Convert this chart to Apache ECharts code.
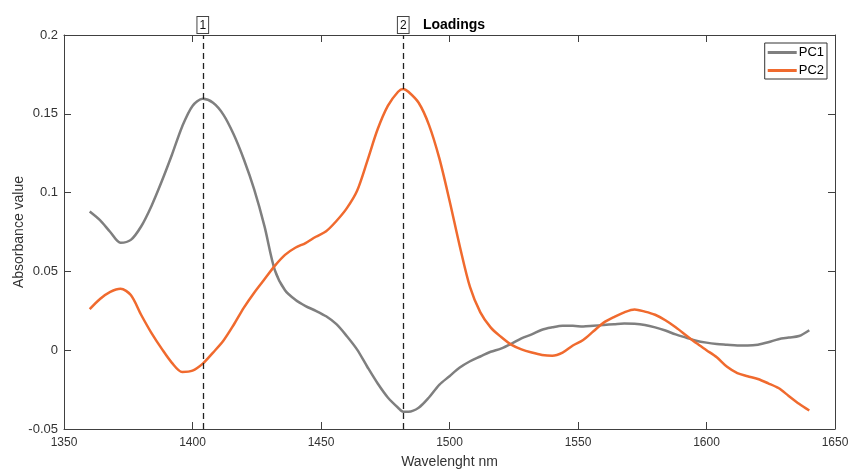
<!DOCTYPE html>
<html>
<head>
<meta charset="utf-8">
<title>Loadings</title>
<script src="https://cdn.jsdelivr.net/npm/echarts@6/dist/echarts.min.js"></script>
<style>
  html, body { margin: 0; padding: 0; background: #fff; }
  #chart { width: 848px; height: 470px; }
</style>
</head>
<body>
<div id="chart"></div>
<script>
// Wavelength grid (nm), 4 nm steps plus the two marked peak positions
const wavelength = [
  1360, 1364, 1368, 1372, 1376, 1380, 1384, 1388, 1392, 1396,
  1400, 1404, 1408, 1412, 1416, 1420, 1424, 1428, 1432, 1436,
  1440, 1444, 1448, 1452, 1456, 1460, 1464, 1468, 1472, 1476,
  1480, 1482, 1484, 1488, 1492, 1496, 1500, 1504, 1508, 1512, 1516,
  1520, 1524, 1528, 1532, 1536, 1540, 1544, 1548, 1552, 1556,
  1560, 1564, 1568, 1572, 1576, 1580, 1584, 1588, 1592, 1596,
  1600, 1604, 1608, 1612, 1616, 1620, 1624, 1628, 1632, 1636,
  1640
];

// First principal component loadings
const pc1 = [
  0.088, 0.0825, 0.0750, 0.0682, 0.0700, 0.0785, 0.0914, 0.107, 0.124, 0.142,
  0.155, 0.1595, 0.157, 0.1495, 0.137, 0.121, 0.102, 0.0787, 0.051, 0.038,
  0.032, 0.028, 0.025, 0.0215, 0.0165, 0.009, 0.0005, -0.0105, -0.021, -0.030,
  -0.0365, -0.0390, -0.0390, -0.0365, -0.030, -0.022, -0.0165, -0.011, -0.007, -0.004, -0.001,
  0.001, 0.004, 0.0075, 0.010, 0.013, 0.0145, 0.0155, 0.0155, 0.015, 0.0155,
  0.016, 0.0165, 0.017, 0.0168, 0.016, 0.0145, 0.0125, 0.010, 0.008, 0.006,
  0.0048, 0.004, 0.0035, 0.003, 0.003, 0.0035, 0.005, 0.007, 0.008, 0.009,
  0.0127
];

// Second principal component loadings
const pc2 = [
  0.026, 0.0325, 0.037, 0.039, 0.035, 0.0225, 0.011, 0.001, -0.008, -0.0138,
  -0.013, -0.0085, -0.0015, 0.006, 0.016, 0.027, 0.0365, 0.045, 0.0535, 0.0605,
  0.065, 0.068, 0.072, 0.0755, 0.082, 0.090, 0.101, 0.120, 0.140, 0.155,
  0.1640, 0.1658, 0.1640, 0.157, 0.143, 0.122, 0.095, 0.066, 0.040, 0.024, 0.0145,
  0.0085, 0.0035, 0.0005, -0.0015, -0.003, -0.0035, -0.0015, 0.003, 0.0065, 0.012,
  0.0175, 0.021, 0.024, 0.0258, 0.0245, 0.0225, 0.019, 0.0145, 0.0095, 0.0045,
  0.0, -0.0045, -0.0105, -0.0145, -0.0165, -0.0183, -0.021, -0.024, -0.029, -0.034,
  -0.0383
];

// Marked peak wavelengths and their tags
const peakWavelengths = [1404, 1482];
const peakTags = ['1', '2'];

const FONT = '"Liberation Sans", Arial, sans-serif';
const AXIS_COLOR = '#404040';
const TEXT_COLOR = '#333333';

const chart = echarts.init(document.getElementById('chart'), null, { renderer: 'canvas' });

const boxAxisX = {
  type: 'value', min: 1350, max: 1650, interval: 50,
  axisLine: { show: true, onZero: false, lineStyle: { color: AXIS_COLOR, width: 1 } },
  axisTick: { show: true, inside: true, length: 7, lineStyle: { color: AXIS_COLOR } },
  splitLine: { show: false }
};
const boxAxisY = {
  type: 'value', min: -0.05, max: 0.2, interval: 0.05,
  axisLine: { show: true, onZero: false, lineStyle: { color: AXIS_COLOR, width: 1 } },
  axisTick: { show: true, inside: true, length: 7, lineStyle: { color: AXIS_COLOR } },
  splitLine: { show: false }
};

chart.setOption({
  animation: false,
  backgroundColor: '#ffffff',
  textStyle: { fontFamily: FONT },
  title: {
    text: 'Loadings',
    left: 449, top: 13, textAlign: 'center',
    textStyle: { fontFamily: FONT, fontSize: 14, fontWeight: 'bold', color: '#000' }
  },
  grid: { left: 64, right: 13, top: 35, bottom: 41, containLabel: false, outerBoundsMode: 'none' },
  legend: {
    orient: 'vertical',
    right: 21, top: 43,
    padding: [3, 3, 2, 3],
    itemGap: 5,
    itemWidth: 29, itemHeight: 3,
    icon: 'rect',
    borderColor: '#333', borderWidth: 1,
    backgroundColor: '#fff',
    textStyle: { fontFamily: FONT, fontSize: 13, color: '#000', padding: [0, 0, 0, -3] },
    data: ['PC1', 'PC2']
  },
  xAxis: [
    Object.assign({}, boxAxisX, {
      position: 'bottom',
      name: 'Wavelenght nm', nameLocation: 'middle', nameGap: 26, nameMoveOverlap: false,
      nameTextStyle: { fontFamily: FONT, fontSize: 14, color: TEXT_COLOR },
      axisLabel: {
        show: true, fontFamily: FONT, fontSize: 12, color: TEXT_COLOR, margin: 8,
        formatter: v => String(v)
      }
    }),
    Object.assign({}, boxAxisX, { position: 'top', axisLabel: { show: false } })
  ],
  yAxis: [
    Object.assign({}, boxAxisY, {
      position: 'left',
      name: 'Absorbance value', nameLocation: 'middle', nameGap: 38, nameMoveOverlap: false,
      nameTextStyle: { fontFamily: FONT, fontSize: 14, color: TEXT_COLOR },
      axisLabel: { show: true, fontFamily: FONT, fontSize: 13, color: TEXT_COLOR, margin: 6 }
    }),
    Object.assign({}, boxAxisY, { position: 'right', axisLabel: { show: false } })
  ],
  series: [
    {
      name: 'PC1', type: 'line',
      xAxisIndex: 0, yAxisIndex: 0,
      data: wavelength.map((w, i) => [w, pc1[i]]),
      smooth: 0.3, symbol: 'none',
      lineStyle: { color: '#7f7f7f', width: 2.5 },
      itemStyle: { color: '#7f7f7f' },
      z: 3,
      markLine: {
        silent: true, symbol: 'none', animation: false,
        lineStyle: { color: '#222', type: [6, 4], width: 1.3 },
        label: {
          show: true, position: 'end', distance: 2,
          formatter: p => p.name,
          fontFamily: FONT, fontSize: 12, color: '#111',
          borderColor: '#444', borderWidth: 1,
          backgroundColor: '#fff',
          padding: [2, 2, 1, 2], lineHeight: 13
        },
        data: peakWavelengths.map((w, i) => ({ name: peakTags[i], xAxis: w }))
      }
    },
    {
      name: 'PC2', type: 'line',
      xAxisIndex: 0, yAxisIndex: 0,
      data: wavelength.map((w, i) => [w, pc2[i]]),
      smooth: 0.3, symbol: 'none',
      lineStyle: { color: '#f06a2e', width: 2.5 },
      itemStyle: { color: '#f06a2e' },
      z: 4
    }
  ]
});
</script>
</body>
</html>
